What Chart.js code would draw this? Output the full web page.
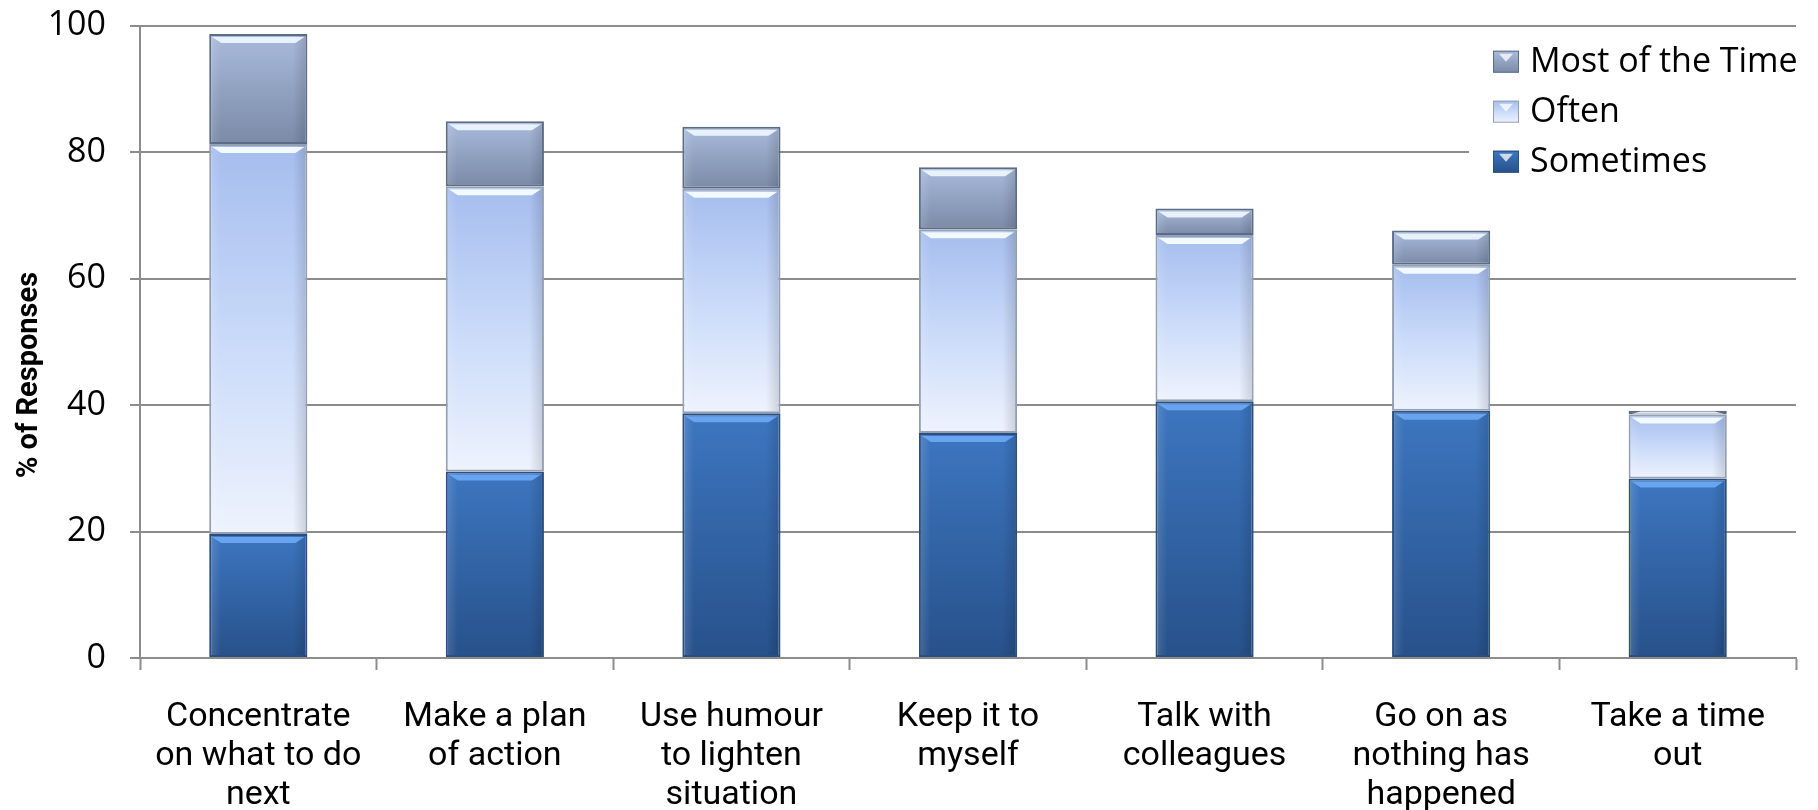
<!DOCTYPE html>
<html>
<head>
<meta charset="utf-8">
<script src="https://cdn.jsdelivr.net/npm/chart.js@4.4.1/dist/chart.umd.min.js"></script>
<style>
html,body{margin:0;padding:0;background:#fff;}
#wrap{width:1818px;height:810px;}
</style>
</head>
<body>
<div id="wrap"><canvas id="c" width="1818" height="810"></canvas></div>
<script>
// categories (multi-line labels)
const categories=[
["Concentrate","on what to do","next"],
["Make a plan","of action"],
["Use humour","to lighten","situation"],
["Keep it to","myself"],
["Talk with","colleagues"],
["Go on as","nothing has","happened"],
["Take a time","out"]
];
const sometimes=[19.6,29.5,38.7,35.6,40.6,39.1,28.4];
const often=[61.7,45.1,35.5,32.2,26.3,23.1,10.1];
const mostOfTime=[17.4,10.3,9.8,9.8,4.2,5.4,0.6];
const yTicks=[0,20,40,60,80,100];
const yTitle="% of Responses";

const stops={
Sometimes:[[0,"#3d76c0"],[1,"#27518a"]],
Often:[[0,"#a5bdee"],[0.5,"#c9daf9"],[1,"#eef3fd"]],
"Most of the Time":[[0,"#a9bbdc"],[1,"#7a8aa7"]]
};
const shine={Sometimes:"rgba(110,170,245,0.9)",Often:"rgba(245,252,255,0.95)","Most of the Time":"rgba(240,248,255,0.9)"};

function segGrad(name,lower){
return function(c){
const chart=c.chart;
if(!chart.chartArea) return stops[name][0][1];
const i=c.dataIndex;
const base=lower.reduce((s,a)=>s+a[i],0);
const v=c.dataset.data[i];
const y=chart.scales.y;
const g=chart.ctx.createLinearGradient(0,y.getPixelForValue(base+v),0,y.getPixelForValue(base));
stops[name].forEach(s=>g.addColorStop(s[0],s[1]));
return g;
};
}

// glossy top strip + side shading on each segment
const gloss={
id:"gloss",
afterDatasetsDraw(chart){
const ctx=chart.ctx;
chart.data.datasets.forEach((d,di)=>{
chart.getDatasetMeta(di).data.forEach(b=>{
const l=b.x-b.width/2,r=b.x+b.width/2,t=Math.min(b.y,b.base),h=Math.abs(b.base-b.y);
if(h<3) return;
ctx.save();
let g=ctx.createLinearGradient(l,0,r,0);
g.addColorStop(0,"rgba(255,255,255,0.15)");
g.addColorStop(0.12,"rgba(255,255,255,0)");
g.addColorStop(0.85,"rgba(0,0,0,0)");
g.addColorStop(1,"rgba(0,0,0,0.15)");
ctx.fillStyle=g;
ctx.fillRect(l+2,t+2,b.width-4,h-4);
const s=Math.min(9,h-3);
ctx.fillStyle=shine[d.label];
ctx.beginPath();
ctx.moveTo(l+3,t+3);ctx.lineTo(r-3,t+3);ctx.lineTo(r-12,t+s);ctx.lineTo(l+12,t+s);ctx.closePath();
ctx.fill();
ctx.restore();
});
});
}
};

// y title and legend box inside the plot, top right
const extras={
id:"extras",
afterDatasetsDraw(chart){
const ctx=chart.ctx,a=chart.chartArea;
ctx.save();
ctx.translate(30,375);
ctx.rotate(-Math.PI/2);
ctx.font="bold 29px Roboto";
ctx.textAlign="center";ctx.textBaseline="middle";ctx.fillStyle="#000";
ctx.fillText(yTitle,0,0);
ctx.restore();

const x0=a.right-327,y0=a.top+9;
ctx.save();
ctx.fillStyle="#fff";
ctx.fillRect(x0,y0,330,155);
ctx.font="34px 'Open Sans'";
ctx.textBaseline="middle";
const items=chart.data.datasets.slice().reverse();
items.forEach((d,k)=>{
const cy=y0+27+k*50;
const g=ctx.createLinearGradient(0,cy-11,0,cy+11);
stops[d.label].forEach(s=>g.addColorStop(s[0],s[1]));
ctx.fillStyle=g;
ctx.fillRect(x0+24,cy-11,26,22);
ctx.strokeStyle=d.borderColor;ctx.lineWidth=1;
ctx.strokeRect(x0+24.5,cy-10.5,25,21);
ctx.fillStyle="rgba(255,255,255,0.75)";
ctx.beginPath();ctx.moveTo(x0+30,cy-8);ctx.lineTo(x0+44,cy-8);ctx.lineTo(x0+37,cy);ctx.closePath();ctx.fill();
ctx.fillStyle="#000";
ctx.fillText(d.label,x0+61,cy+1);
});
ctx.restore();
}
};

new Chart(document.getElementById("c"),{
type:"bar",
data:{
labels:categories,
datasets:[
{label:"Sometimes",data:sometimes,backgroundColor:segGrad("Sometimes",[]),borderColor:"#2a4e7e"},
{label:"Often",data:often,backgroundColor:segGrad("Often",[sometimes]),borderColor:"#939fb3"},
{label:"Most of the Time",data:mostOfTime,backgroundColor:segGrad("Most of the Time",[sometimes,often]),borderColor:"#5d6c86"}
].map(d=>Object.assign(d,{borderWidth:2,borderSkipped:false,barPercentage:0.415,categoryPercentage:1}))
},
options:{
responsive:false,
animation:false,
layout:{padding:{top:0,right:22,left:0,bottom:0}},
plugins:{legend:{display:false},tooltip:{enabled:false}},
scales:{
x:{
stacked:true,
afterFit(s){s.height=152;},
border:{color:"#8c8c8c",width:2},
grid:{display:true,drawOnChartArea:false,drawTicks:true,tickLength:12,tickWidth:2,tickColor:"#8c8c8c",offset:true},
ticks:{color:"#000",font:{family:"Roboto",size:34,lineHeight:1.15},padding:28,maxRotation:0,autoSkip:false}
},
y:{
stacked:true,
min:0,max:100,
afterBuildTicks(s){s.ticks=yTicks.map(v=>({value:v}));},
afterFit(s){s.width=140;},
border:{color:"#8c8c8c",width:2},
grid:{color:"#8c8c8c",lineWidth:2,tickLength:10,tickColor:"#8c8c8c"},
ticks:{color:"#000",font:{family:"'Open Sans'",size:34,lineHeight:0.1},padding:24}
}
}
},
plugins:[gloss,extras]
});
</script>
</body>
</html>
